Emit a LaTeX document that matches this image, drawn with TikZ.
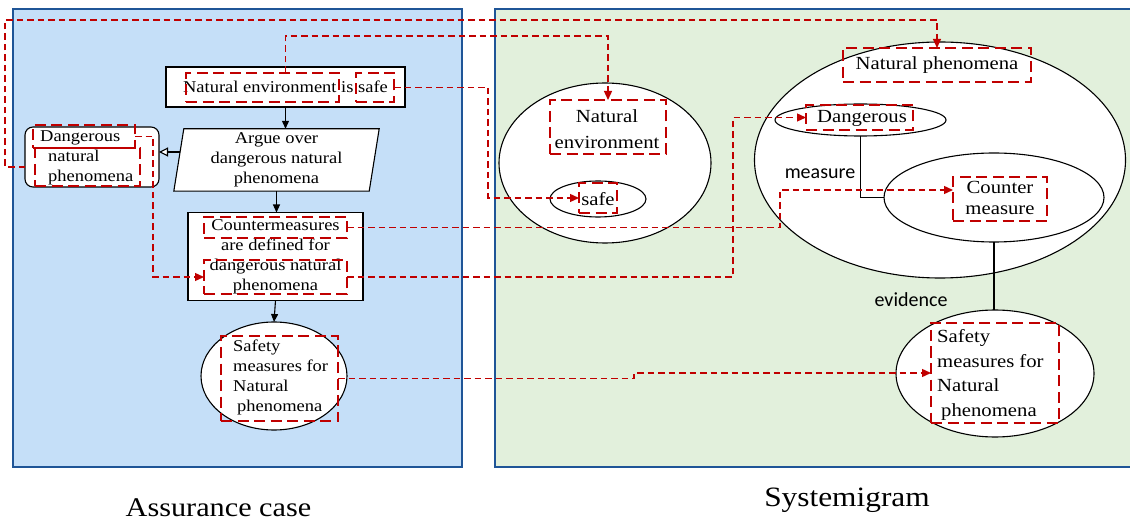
\documentclass[tikz,border=0pt]{standalone}
\usepackage{fontspec}
\setmainfont{Liberation Serif}[FakeStretch=1.12]
\newfontfamily\labelsans{Carlito}
\usetikzlibrary{shapes.geometric,arrows.meta,calc,backgrounds}

\definecolor{panelblue}{HTML}{C5DFF8}
\definecolor{panelgreen}{HTML}{E2F0DC}
\definecolor{frameblue}{HTML}{1F5597}
\definecolor{hired}{HTML}{C00000}

\begin{document}
\begin{tikzpicture}[x=1pt,y=-1pt,
  panel/.style={draw=frameblue, line width=2.8pt},
  box/.style={draw=black, line width=1.1pt, fill=white, inner sep=0pt, outer sep=0pt},
  oval/.style={ellipse, draw=black, line width=1.1pt, fill=white, inner sep=0pt, outer sep=0pt},
  hilite/.style={draw=hired, line width=2.7pt, dash pattern=on 11pt off 5.5pt, inner sep=0pt, outer sep=0pt},
  link/.style={draw=hired, line width=1.3pt, dash pattern=on 6.5pt off 4pt,
    -{Triangle[length=9pt,width=8pt]}},
  flow/.style={draw=black, line width=1.1pt, -{Triangle[length=8pt,width=7pt]}},
  opentip/.style={draw=black, line width=1.1pt, -{Triangle[open,fill=white,length=9pt,width=9pt]}},
  relation/.style={draw=black, line width=1.1pt},
  txt/.style={inner sep=0pt, font=\fontsize{16.5}{20}\selectfont, align=center},
  bigtxt/.style={inner sep=0pt, font=\fontsize{18.5}{24.5}\selectfont, align=center},
  sanslbl/.style={inner sep=0pt, font=\labelsans\fontsize{20}{24}\selectfont},
  caption/.style={inner sep=0pt, font=\fontsize{27}{32}\selectfont}]

\useasboundingbox (0,0) rectangle (1130,521);
\clip (0,0) rectangle (1130,521);

% ---------- panels ----------
\begin{scope}[on background layer]
  \fill[panelblue] (13,9) rectangle (462,467);
  \draw[panel] (13,9) rectangle (462,467);
  \fill[panelgreen] (495,9) rectangle (1145,467);
  \draw[panel] (495,9) rectangle (1145,467);
\end{scope}

% ---------- assurance case ----------
\node[box, txt, minimum width=239pt, minimum height=40pt] (nes) at (285.5,87) {Natural environment is safe};

\node[txt, minimum width=205pt, minimum height=62pt] (argue) at (276.5,160)
  {Argue over\\dangerous natural\\phenomena};
\begin{scope}[on background layer]
  \draw[box] ($(argue.north west)+(10,0)$) -- (argue.north east)
    -- ($(argue.south east)+(-10,0)$) -- (argue.south west) -- cycle;
\end{scope}

\node[box, rounded corners=8pt, minimum width=134pt, minimum height=60pt] (dnp) at (92,157) {};
\node[txt, align=left, anchor=west] (dnptext) at (40,157.5)
  {Dangerous\\\hspace*{8pt}natural\\\hspace*{8pt}phenomena};

\node[box, txt, minimum width=175pt, minimum height=88pt] (cm) at (275.5,256.5)
  {Countermeasures\\are defined for\\dangerous natural\\phenomena};

\node[oval, minimum width=146pt, minimum height=108pt] (safeL) at (274,376) {};
\node[txt, align=left, anchor=west] (safeLtext) at (233,377)
  {Safety\\measures for\\Natural\\\hspace*{4pt}phenomena};

% flow between the claims
\draw[flow] (nes.south) -- (nes.south |- argue.north);
\draw[flow] (argue.south) -- (argue.south |- cm.north);
\draw[flow] (cm.south) -- (safeL.north);
\coordinate (argueL) at ([xshift=6pt,yshift=8pt]argue.west);
\draw[opentip] (argueL) -- (argueL -| dnp.east);

% highlighted phrases
\node[hilite, minimum width=153pt, minimum height=29pt] (nesNE) at (262.5,87.5) {};
\node[hilite, minimum width=38pt, minimum height=29pt] (nesSafe) at (375,87.5) {};
\node[hilite, minimum width=102pt, minimum height=23pt] (dnpD) at (84,136.5) {};
\node[hilite, minimum width=105pt, minimum height=38pt] (dnpN) at (87.5,167) {};
\node[hilite, minimum width=143pt, minimum height=21pt] (cmC) at (275.5,227.5) {};
\node[hilite, minimum width=143pt, minimum height=34pt] (cmD) at (275.5,277) {};
\node[hilite, minimum width=117pt, minimum height=85pt] (safeLbox) at (279.5,378.5) {};

% ---------- systemigram ----------
\node[oval, minimum width=212pt, minimum height=160pt] (envE) at (605,163) {};
\node[oval, minimum width=96pt, minimum height=36pt] (safeE) at (598,199) {};
\node[oval, minimum width=371pt, minimum height=236pt] (npE) at (940,160) {};
\node[oval, minimum width=171pt, minimum height=32pt] (dangE) at (860.5,120) {};
\node[oval, minimum width=220pt, minimum height=89pt] (cmE) at (994,197.5) {};
\node[oval, minimum width=198pt, minimum height=127pt] (safeR) at (995,373.5) {};

\draw[relation] (dangE.south) |- (cmE.west);
\draw[relation] (cmE.south) -- (cmE.south |- safeR.north);
\node[sanslbl] (lblMeasure) at (820,174) {measure};
\node[sanslbl] (lblEvidence) at (911,300) {evidence};

\node[bigtxt, font=\fontsize{18.5}{26}\selectfont] (envtext) at (607,129) {Natural\\environment};
\node[bigtxt] (safetext) at (598,199) {safe};
\node[bigtxt] (nptext) at (937,65) {Natural phenomena};
\node[bigtxt] (dangtext) at (862,118) {Dangerous};
\node[bigtxt, font=\fontsize{18.5}{21}\selectfont] (cmtext) at (1000,197.5) {Counter\\measure};
\node[bigtxt, align=left, anchor=west] (safeRtext) at (937,375)
  {Safety\\measures for\\Natural\\\hspace*{4pt}phenomena};

\node[hilite, minimum width=116pt, minimum height=54pt] (envBox) at (608,127) {};
\node[hilite, minimum width=38pt, minimum height=30pt] (safeBox) at (598,198) {};
\node[hilite, minimum width=188pt, minimum height=34pt] (npBox) at (937,65) {};
\node[hilite, minimum width=107pt, minimum height=25pt] (dangBox) at (859.5,117.5) {};
\node[hilite, minimum width=94pt, minimum height=44pt] (cmBox) at (1000,199) {};
\node[hilite, minimum width=128pt, minimum height=100pt] (safeRbox) at (995,373) {};

% ---------- traceability links ----------
\draw[link] (dnpN.west -| dnp.west) -| (5,20) -| (npBox.north);
\draw[link] (nes.south |- nesNE.north) -- (nes.south |- 0,36) -| (envBox.north);
\draw[link] (nesSafe.east) -- ++(94,0) |- (safeBox.west);
\draw[link] (dnpD.east) -- ++(18,0) |- (cmD.west);
\draw[link] (cmD.east) -- ++(386,0) |- (dangBox.west);
\draw[link] (cmC.east) -- ++(433,0) |- ([yshift=9pt]cmBox.west);
\draw[link] (safeLbox.east) -| (634,373) -- (safeRbox.west);

% ---------- captions ----------
\node[caption] (capA) at (218.5,508) {Assurance case};
\node[caption, font=\fontsize{28}{32}\selectfont] (capB) at (847,500) {Systemigram};
\end{tikzpicture}
\end{document}
